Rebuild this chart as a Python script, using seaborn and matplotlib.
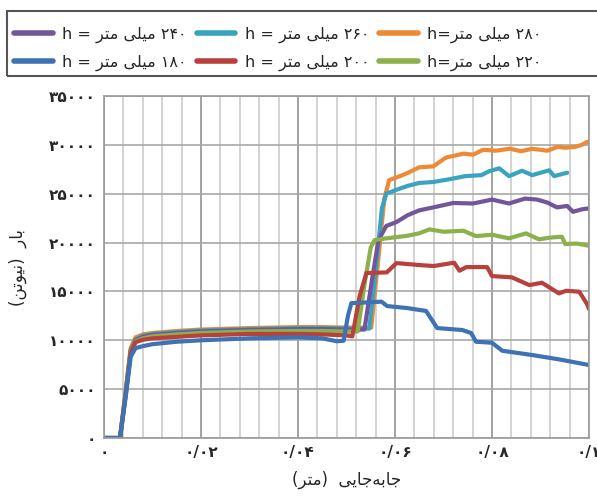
import numpy as np
import pandas as pd
import seaborn as sns
import matplotlib.pyplot as plt
from matplotlib.patches import Rectangle

# ---- data (x in metres, load in newtons) ----
x_180 = [0, 0.0033, 0.0045, 0.0055, 0.0065, 0.008, 0.01, 0.015, 0.02, 0.03, 0.04, 0.045,
         0.048, 0.0494, 0.0503, 0.051, 0.0572, 0.0584, 0.0625, 0.0664, 0.0687, 0.0739,
         0.0757, 0.0767, 0.08, 0.0821, 0.0883, 0.0938, 0.1]
y_180 = [0, 0, 4300, 8300, 9200, 9400, 9600, 9850, 10000, 10200, 10300, 10200,
         9900, 9950, 12500, 13800, 13950, 13500, 13300, 13000, 11250, 11050,
         10740, 9850, 9750, 8930, 8490, 8050, 7470]

x_200 = [0, 0.0033, 0.0045, 0.0055, 0.0065, 0.008, 0.01, 0.015, 0.02, 0.03, 0.04, 0.045,
         0.05, 0.0512, 0.0527, 0.0541, 0.0583, 0.0603, 0.065, 0.068, 0.0722, 0.0733,
         0.0747, 0.079, 0.08, 0.0841, 0.0877, 0.0903, 0.0938, 0.0953, 0.098, 0.0996, 0.1]
y_200 = [0, 0, 4500, 8700, 9800, 10050, 10200, 10350, 10500, 10650, 10650, 10600,
         10500, 10400, 14500, 16880, 16950, 17900, 17700, 17600, 17940, 17120,
         17490, 17490, 16570, 16440, 15650, 15890, 14800, 15070, 14970, 13700, 13200]

x_220 = [0, 0.0033, 0.0045, 0.0055, 0.0065, 0.008, 0.01, 0.015, 0.02, 0.03, 0.04, 0.045,
         0.05, 0.0523, 0.0538, 0.055, 0.0558, 0.0582, 0.0626, 0.065, 0.0671, 0.07,
         0.0741, 0.0767, 0.08, 0.0835, 0.087, 0.0897, 0.0918, 0.0944, 0.0951, 0.0975, 0.1]
y_220 = [0, 0, 4600, 8800, 9900, 10200, 10400, 10600, 10750, 10900, 10950, 10950,
         10900, 10900, 16000, 19500, 20250, 20430, 20700, 20950, 21350, 21110,
         21210, 20660, 20800, 20430, 20940, 20330, 20500, 20600, 19850, 19900, 19670]

x_240 = [0, 0.0033, 0.0045, 0.0055, 0.0065, 0.008, 0.01, 0.015, 0.02, 0.03, 0.04, 0.045,
         0.05, 0.0537, 0.0552, 0.0565, 0.0572, 0.0582, 0.0603, 0.0626, 0.065, 0.0679,
         0.072, 0.0761, 0.08, 0.0835, 0.0868, 0.0893, 0.0914, 0.0934, 0.0955, 0.0967,
         0.0985, 0.1]
y_240 = [0, 0, 4700, 8900, 10000, 10350, 10550, 10750, 10900, 11050, 11150, 11150,
         11100, 11100, 16000, 20000, 20800, 21700, 22100, 22800, 23300, 23600,
         24050, 24000, 24400, 24000, 24500, 24400, 24100, 23600, 23750, 23150,
         23400, 23500]

x_260 = [0, 0.0033, 0.0045, 0.0055, 0.0065, 0.008, 0.01, 0.015, 0.02, 0.03, 0.04, 0.045,
         0.05, 0.0547, 0.056, 0.0573, 0.0582, 0.0603, 0.0626, 0.065, 0.0679, 0.0714,
         0.0745, 0.0778, 0.0794, 0.0815, 0.0835, 0.0862, 0.0883, 0.0918, 0.0928, 0.0955]
y_260 = [0, 0, 4800, 9000, 10100, 10450, 10650, 10850, 11000, 11150, 11250, 11250,
         11200, 11200, 17000, 23500, 25000, 25400, 25800, 26100, 26200, 26500,
         26800, 26900, 27300, 27600, 26800, 27350, 26900, 27400, 26800, 27150]

x_280 = [0, 0.0033, 0.0045, 0.0055, 0.0065, 0.008, 0.01, 0.015, 0.02, 0.03, 0.04, 0.045,
         0.05, 0.0551, 0.0565, 0.0578, 0.0588, 0.0605, 0.0625, 0.065, 0.0679, 0.0705,
         0.0741, 0.0761, 0.0782, 0.0807, 0.0837, 0.086, 0.0883, 0.0914, 0.0936, 0.0951,
         0.0972, 0.0985, 0.0996]
y_280 = [0, 0, 5000, 9200, 10300, 10600, 10750, 10950, 11100, 11250, 11350, 11350,
         11300, 11300, 18000, 24500, 26400, 26700, 27100, 27700, 27800, 28700,
         29100, 29000, 29500, 29400, 29600, 29350, 29600, 29400, 29800, 29700,
         29800, 30000, 30300]

heights = ["180", "200", "220", "240", "260", "280"]
colors = ["#3d72b4", "#b8413c", "#8cb04a", "#71569b", "#3aa3bf", "#ee8a35"]

y_ticks = [0, 5000, 10000, 15000, 20000, 25000, 30000, 35000]
x_ticks = [0, 0.02, 0.04, 0.06, 0.08, 0.1]
x_tick_text = ["0", "0.02", "0.04", "0.06", "0.08", "0.1"]

# Persian text, pre-shaped (presentation forms) and in visual order
FA_DIGITS = str.maketrans("0123456789.", "\u06f0\u06f1\u06f2\u06f3\u06f4\u06f5\u06f6\u06f7\u06f8\u06f9/")
MTR = "\ufeae\ufe98\ufee3"              # متر
MILI = "\ufef0\ufee0\ufef4\ufee3"       # میلی
BAR = "\ufead\ufe8e\ufe91"              # بار
NEWTON = "\ufee6\ufe97\ufeee\ufef4\ufee7"  # نیوتن
JABEJAI = "\ufef0\ufef3\ufe8e\ufe9f\ufeea\ufe91\ufe8e\ufe9f"  # جابه‌جایی


def fa(s):
    return s.translate(FA_DIGITS)


def legend_label(h, tight=False):
    eq = "h=" if tight else "h = "
    return eq + MTR + " " + MILI + " " + fa(h)


sns.set_style("white")
plt.rcParams["font.family"] = ["DejaVu Sans"]

series = {
    "180": (x_180, y_180), "200": (x_200, y_200), "220": (x_220, y_220),
    "240": (x_240, y_240), "260": (x_260, y_260), "280": (x_280, y_280),
}

fig = plt.figure(figsize=(5.97, 4.99), dpi=100)
ax = fig.add_axes([104 / 597, 61 / 499, 485 / 597, 342 / 499])

handles = {}
for h, c in reversed(list(zip(heights, colors))):
    xs, ys = series[h]
    df = pd.DataFrame({"x": xs, "y": ys})
    sns.lineplot(data=df, x="x", y="y", color=c, lw=3.0, ax=ax, sort=False,
                 estimator=None, solid_capstyle="round", solid_joinstyle="round")
    handles[h] = ax.lines[-1]

ax.set_xlim(0, 0.1)
ax.set_ylim(0, 35000)
ax.set_xticks(x_ticks)
ax.set_xticks(np.arange(0, 0.1001, 0.004), minor=True)
ax.set_yticks(y_ticks)
ax.set_xticklabels([fa(t) for t in x_tick_text], fontsize=11, fontweight="bold")
ax.set_yticklabels([fa(str(v)) for v in y_ticks], fontsize=11, fontweight="bold")
ax.tick_params(axis="both", which="major", length=3, color="#999999")
ax.tick_params(axis="y", which="major", pad=3)
ax.tick_params(axis="x", which="major", pad=2)
ax.tick_params(axis="both", which="minor", length=0)
ax.grid(which="major", axis="x", color="#9a9a9a", lw=1.3)
ax.grid(which="minor", axis="x", color="#c8c8c8", lw=1.1)
ax.grid(which="major", axis="y", color="#a8a8a8", lw=1.2)
ax.set_axisbelow(True)
for sp in ax.spines.values():
    sp.set_color("#9a9a9a")
    sp.set_linewidth(1.2)

ax.set_xlabel("(" + MTR + ")  " + JABEJAI, fontsize=12, labelpad=8)
ax.set_ylabel("(" + NEWTON + ")  " + BAR, fontsize=12, labelpad=16)

# legend box spanning the top, cut by the right edge as in the reference
fig.patches.append(Rectangle((7 / 597, 1 - 76 / 499), 620 / 597, 65 / 499,
                             transform=fig.transFigure, fill=False,
                             edgecolor="#555555", lw=1.5))
order = ["240", "180", "260", "200", "280", "220"]
labels = [legend_label(h, tight=h in ("280", "220")) for h in order]
leg = fig.legend([handles[h] for h in order], labels, loc="center left",
                 bbox_to_anchor=(8 / 597, 1 - 81 / 499, 540 / 597, 65 / 499),
                 mode="expand", ncol=3, fontsize=11.5, handlelength=2.4,
                 handletextpad=0.6, frameon=False, borderaxespad=0.0,
                 labelspacing=0.75)
for ln in leg.get_lines():
    ln.set_linewidth(4)

fig.savefig("out.png", dpi=100)
